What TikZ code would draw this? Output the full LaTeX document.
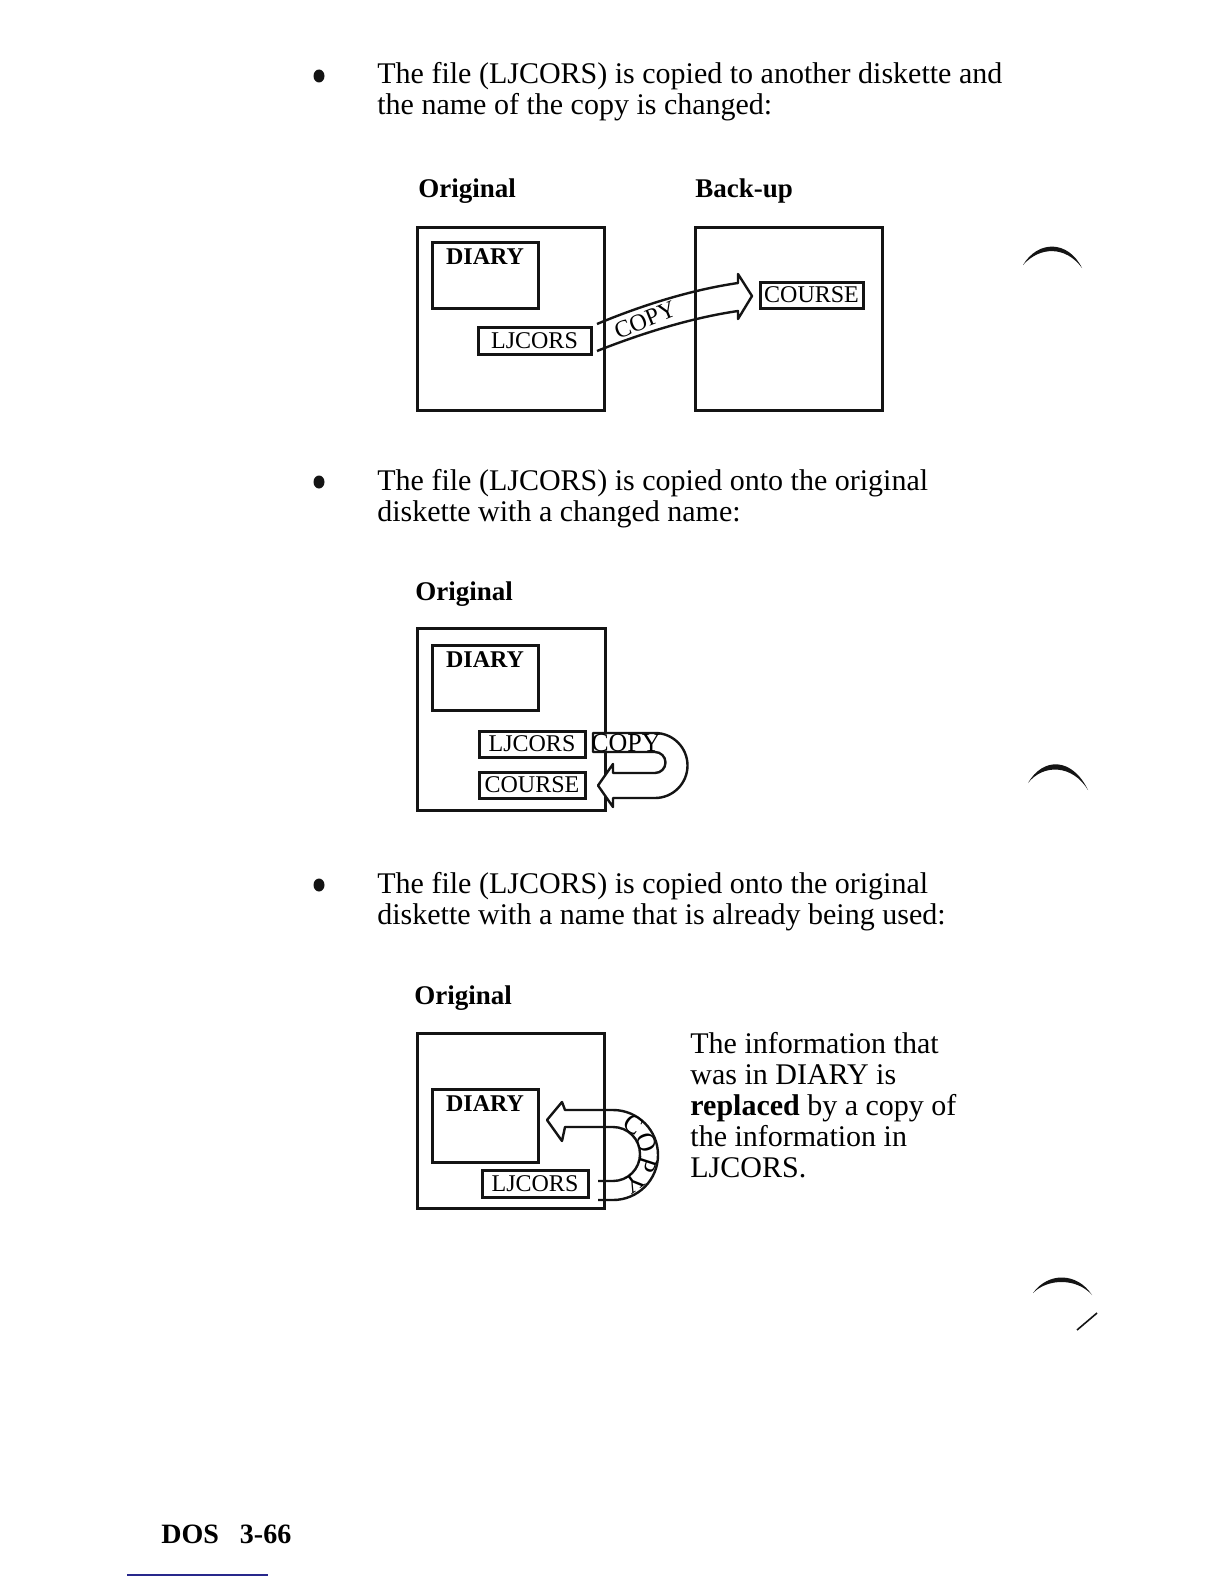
\documentclass[tikz,border=0pt]{standalone}
\usepackage{fontspec}
\setmainfont{Liberation Serif}
\usetikzlibrary{positioning,calc,shapes.geometric}
\definecolor{ink}{RGB}{20,20,20}
\definecolor{rulecol}{RGB}{40,40,140}
\tikzset{
  disk/.style={draw=ink,line width=1.5pt,inner sep=0pt},
  fbox/.style={draw=ink,line width=1.5pt,inner sep=0pt,font=\fontsize{12}{12}\selectfont},
  fname/.style={inner sep=0pt,font=\fontsize{12}{12}\selectfont\bfseries},
  body/.style={font=\fontsize{15}{15.5}\selectfont,anchor=base west,inner sep=0pt},
  head/.style={font=\fontsize{13.5}{14}\selectfont\bfseries,anchor=base west,inner sep=0pt},
  dot/.style={ellipse,fill=ink,inner sep=0pt,minimum width=5.5pt,minimum height=6.5pt},
  band/.style={draw=ink,line width=1.2pt,line join=round},
  copytext/.style={font=\fontsize{12}{12}\selectfont,inner sep=0pt},
  hole/.style={fill=ink},
}

\begin{document}
\begin{tikzpicture}[x=0.5pt,y=-0.5pt]
  \useasboundingbox[fill=white] (0,0) rectangle (1224,1584);

  % first case: copy to another diskette
  \node[dot] (b1) at (319,76) {};
  \node[body] (t1a) at (377,84) {The file (LJCORS) is copied to another diskette and};
  \node[body] (t1b) at (377,115) {the name of the copy is changed:};
  \node[head] (h1) at (418,197) {Original};
  \node[head] (h2) at (695,197) {Back-up};
  \node[disk,minimum width=93.5pt,minimum height=91.5pt] (o1) at (510.5,318.5) {};
  \node[disk,minimum width=93.5pt,minimum height=91.5pt] (k1) at (788.5,318.5) {};
  \node[fbox,minimum width=53pt,minimum height=33pt] (d1) at (485,275) {};
  \node[fname,below=4pt of d1.north] (d1t) {DIARY};
  \node[fbox,minimum width=56.5pt,minimum height=13.5pt] (l1) at (534.5,340.5) {LJCORS};
  \node[fbox,minimum width=51.5pt,minimum height=13pt] (c1) at (811.5,295) {COURSE};
  \draw[band] (597,324) .. controls (640,306) and (690,290) .. (738,283) -- (738,274)
    -- (752,296) -- (738,319) -- (738,311) .. controls (690,318) and (640,334) .. (597,351);
  \node[copytext,rotate=22] (cp1) at (645,320) {COPY};

  % second case: copy on the same diskette, new name
  \node[dot] (b2) at (319,482) {};
  \node[body] (t2a) at (377,490) {The file (LJCORS) is copied onto the original};
  \node[body] (t2b) at (377,521) {diskette with a changed name:};
  \node[head] (h3) at (415,600) {Original};
  \node[disk,minimum width=94pt,minimum height=91pt] (o2) at (511,719) {};
  \node[fbox,minimum width=53pt,minimum height=32.5pt] (d2) at (485,677.5) {};
  \node[fname,below=4pt of d2.north] (d2t) {DIARY};
  \node[fbox,minimum width=53pt,minimum height=13pt] (l2) at (532,744) {LJCORS};
  \node[fbox,minimum width=53pt,minimum height=13pt] (c2) at (532,785) {COURSE};
  \filldraw[band,fill=white] (593,733) -- (655,733) arc[start angle=-90,end angle=90,radius=32.5]
    -- (613,798) -- (613,807) -- (598,785.5) -- (613,764) -- (613,773) -- (655,773)
    arc[start angle=90,end angle=-90,radius=10.5] -- (593,752) -- cycle;
  \node[copytext,font=\fontsize{13}{13}\selectfont] (cp2) at (626,743) {COPY};

  % third case: copy onto a name already used
  \node[dot] (b3) at (319,885) {};
  \node[body] (t3a) at (377,893) {The file (LJCORS) is copied onto the original};
  \node[body] (t3b) at (377,924) {diskette with a name that is already being used:};
  \node[head] (h4) at (414,1004) {Original};
  \node[disk,minimum width=93.5pt,minimum height=87.5pt] (o3) at (510.5,1120.5) {};
  \node[fbox,minimum width=53pt,minimum height=36.5pt] (d3) at (485,1125.5) {};
  \node[fname,below=4pt of d3.north] (d3t) {DIARY};
  \node[fbox,minimum width=53pt,minimum height=13.5pt] (l3) at (535,1183.5) {LJCORS};
  \coordinate (c3) at (613,1154);
  \draw[band] (598,1181) -- (613,1181) arc[start angle=90,end angle=-90,radius=27]
    -- (565,1127) -- (562,1141) -- (547,1120) -- (562,1102) -- (565,1110) -- (613,1110)
    arc[start angle=-90,end angle=90,radius=45] -- (598,1200);
  \foreach \a/\l in {-55/C,-19/O,18/P,54/Y}
    \node[copytext,font=\fontsize{13}{13}\selectfont,rotate={-(\a)-90}] at ($(c3)+(\a:36)$) {\l};
  \node[body] (r1) at (690,1053) {The information that};
  \node[body] (r2) at (690,1084) {was in DIARY is};
  \node[body] (r3) at (690,1115) {\textbf{replaced} by a copy of};
  \node[body] (r4) at (690,1146) {the information in};
  \node[body] (r5) at (690,1177) {LJCORS.};

  % page foot
  \node[head,font=\fontsize{14}{14}\selectfont\bfseries] (pg) at (161,1543) {DOS\hspace{0.75em}3-66};
  \draw[rulecol,line width=0.9pt] (127,1575) -- (268,1575);

  % binder holes
  \fill[hole] (1023,265) .. controls (1038,240) and (1068,240) .. (1082,268)
    .. controls (1066,246) and (1040,246) .. cycle;
  \fill[hole] (1028,783) .. controls (1043,757) and (1072,757) .. (1088,790)
    .. controls (1072,764) and (1043,764) .. cycle;
  \fill[hole] (1033,1293) .. controls (1048,1272) and (1077,1272) .. (1092,1295)
    .. controls (1077,1278) and (1048,1278) .. cycle;
  \draw[ink,line width=0.8pt] (1077,1330) -- (1097,1313);
\end{tikzpicture}
\end{document}
